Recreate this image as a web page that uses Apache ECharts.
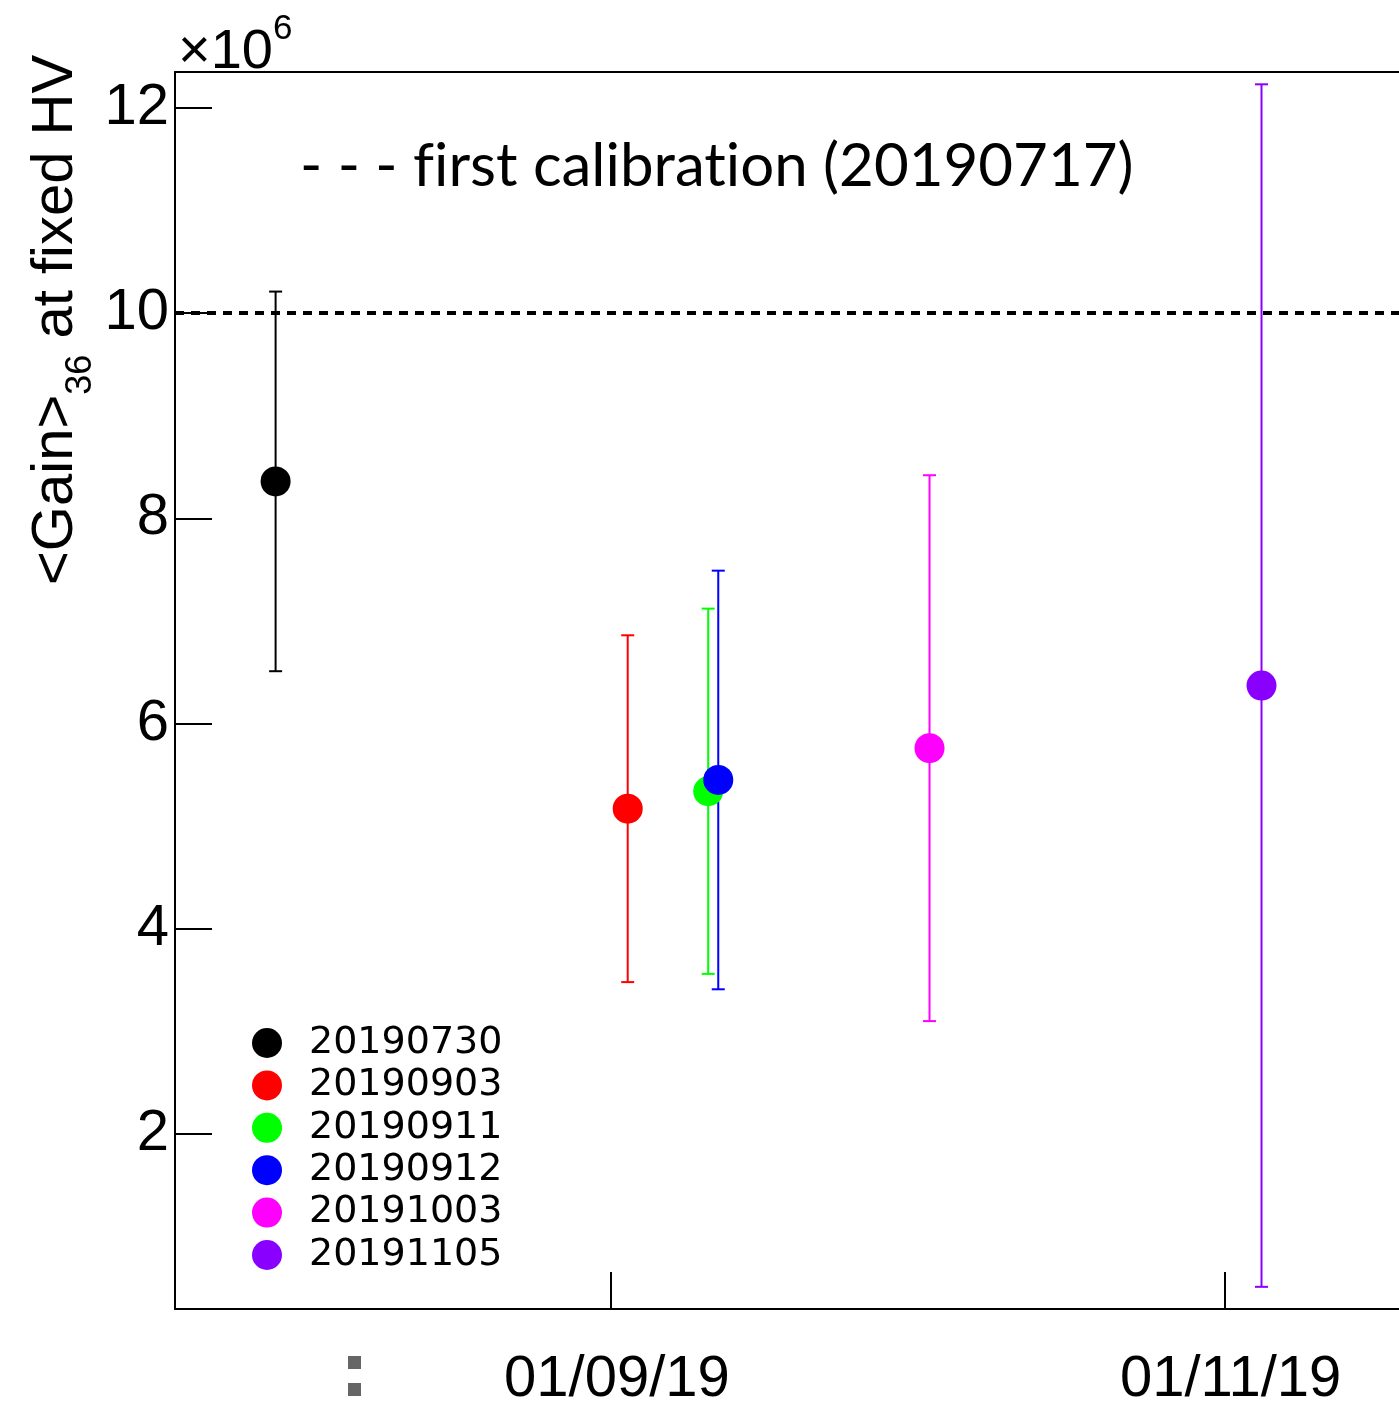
<!DOCTYPE html>
<html>
<head>
<meta charset="utf-8">
<title>Gain at fixed HV</title>
<script src="https://cdn.jsdelivr.net/npm/echarts@6/dist/echarts.min.js"></script>
<style>
  html, body { margin: 0; padding: 0; background: #fff; }
  #chart { width: 1399px; height: 1404px; }
</style>
</head>
<body>
<div id="chart"></div>
<script>
// Calibration runs (date label, time stamp) and mean gain of 36 channels, in units of 1e6
var runLabels = ['20190730', '20190903', '20190911', '20190912', '20191003', '20191105'];
var runDates = ['2019-07-30', '2019-09-03', '2019-09-11', '2019-09-12', '2019-10-03', '2019-11-05'];
var gainValues = [8.36, 5.17, 5.34, 5.45, 5.76, 6.37];
var gainErrors = [1.85, 1.69, 1.78, 2.04, 2.66, 5.86];
var runColors = ['#000000', '#ff0000', '#00ff00', '#0000ff', '#ff00ff', '#8a00ff'];

// Reference gain from the first calibration (20190717)
var firstCalibration = 10;

// Axis ticks (month starts, placed at 08:00 UTC)
var yTickValues = [2, 4, 6, 8, 10, 12];
var xTickDates = ['2019-09-01', '2019-11-01'];
var xTickHour = 8;

var HOUR = 3600 * 1000;
function ts(d) {
  var p = d.split('-');
  return Date.UTC(+p[0], +p[1] - 1, +p[2]);
}
function pad(n) { return (n < 10 ? '0' : '') + n; }
function fmtDate(v) {
  var d = new Date(v);
  return pad(d.getUTCDate()) + '/' + pad(d.getUTCMonth() + 1) + '/' + pad(d.getUTCFullYear() % 100);
}
var xTickValues = xTickDates.map(function (d) { return ts(d) + xTickHour * HOUR; });

var FONT = '"Liberation Sans", Arial, Helvetica, sans-serif';

var errorData = runDates.map(function (d, i) {
  return [ts(d), gainValues[i] - gainErrors[i], gainValues[i] + gainErrors[i], i];
});

var series = [{
  type: 'custom',
  silent: true,
  z: 2,
  data: errorData,
  encode: { x: 0, y: [1, 2] },
  renderItem: function (params, api) {
    var x = api.value(0);
    var lo = api.coord([x, api.value(1)]);
    var hi = api.coord([x, api.value(2)]);
    var color = runColors[api.value(3)];
    var cap = 6.5;
    var style = { stroke: color, lineWidth: 2 };
    return {
      type: 'group',
      children: [
        { type: 'line', shape: { x1: lo[0], y1: lo[1], x2: hi[0], y2: hi[1] }, style: style },
        { type: 'line', shape: { x1: hi[0] - cap, y1: hi[1], x2: hi[0] + cap, y2: hi[1] }, style: style },
        { type: 'line', shape: { x1: lo[0] - cap, y1: lo[1], x2: lo[0] + cap, y2: lo[1] }, style: style }
      ]
    };
  },
  markLine: {
    silent: true,
    symbol: 'none',
    label: { show: false },
    lineStyle: { color: '#000', width: 4, type: [9, 7] },
    data: [{ yAxis: firstCalibration }]
  }
}];

runLabels.forEach(function (name, i) {
  series.push({
    type: 'scatter',
    name: name,
    z: 3,
    symbol: 'circle',
    symbolSize: 30,
    itemStyle: { color: runColors[i], opacity: 1 },
    data: [[ts(runDates[i]), gainValues[i]]]
  });
});

var xMin = ts('2019-07-20');
var xMax = Date.UTC(2019, 10, 18, 16);

var chart = echarts.init(document.getElementById('chart'), null, { renderer: 'canvas' });
chart.setOption({
  animation: false,
  backgroundColor: '#fff',
  grid: { left: 175, right: 0, top: 72, bottom: 95, containLabel: false, outerBoundsMode: 'none' },
  xAxis: [{
    type: 'value',
    scale: true,
    min: xMin,
    max: xMax,
    axisLine: { show: true, lineStyle: { color: '#000', width: 2 } },
    axisTick: {
      show: true, inside: true, length: 37,
      lineStyle: { color: '#000', width: 2 },
      customValues: xTickValues
    },
    axisLabel: {
      show: true, margin: 42, color: '#000', fontFamily: FONT, fontSize: 58,
      padding: [0, 0, 0, 12],
      customValues: xTickValues,
      formatter: function (v) { return fmtDate(v); }
    },
    splitLine: { show: false }
  }, {
    // top frame line
    type: 'value',
    position: 'top',
    scale: true,
    min: xMin,
    max: xMax,
    axisLine: { show: true, onZero: false, lineStyle: { color: '#000', width: 2 } },
    axisTick: { show: false },
    axisLabel: { show: false },
    splitLine: { show: false }
  }],
  yAxis: {
    type: 'value',
    min: 0.294,
    max: 12.35,
    axisLine: { show: true, lineStyle: { color: '#000', width: 2 } },
    axisTick: {
      show: true, inside: true, length: 37,
      lineStyle: { color: '#000', width: 2 },
      customValues: yTickValues
    },
    axisLabel: {
      show: true, margin: 6, color: '#000', fontFamily: FONT, fontSize: 58,
      customValues: yTickValues,
      formatter: function (v) { return String(v); }
    },
    splitLine: { show: false }
  },
  legend: {
    orient: 'vertical',
    left: 252,
    top: 1024,
    padding: 0,
    itemGap: 4.4,
    itemWidth: 30,
    itemHeight: 30,
    icon: 'circle',
    selectedMode: false,
    data: runLabels,
    textStyle: {
      color: '#000', fontFamily: '"DejaVu Sans", sans-serif', fontSize: 38,
      padding: [0, 0, 0, 22]
    }
  },
  graphic: [
    {
      type: 'text',
      left: 300,
      top: 137,
      style: {
        // zero-width non-joiners keep "fi" / "ti" as separate letters
        text: '- - - f\u200Cirst calibrat\u200Cion (20190717)',
        fill: '#000',
        font: '60px Lato, "Open Sans", sans-serif'
      }
    },
    {
      type: 'text',
      left: 178,
      top: 12,
      style: {
        text: '{m|×10}{s|6}',
        rich: {
          m: { fontFamily: FONT, fontSize: 56, fill: '#000', verticalAlign: 'bottom' },
          s: { fontFamily: FONT, fontSize: 35, fill: '#000', padding: [0, 0, 34, 0], verticalAlign: 'bottom' }
        }
      }
    },
    {
      type: 'text',
      x: 27,
      y: 585,
      rotation: Math.PI / 2,
      style: {
        text: '{m|<Gain>}{s|36}{m| at fixed HV}',
        rich: {
          m: { fontFamily: FONT, fontSize: 58, fill: '#000', verticalAlign: 'top' },
          s: { fontFamily: FONT, fontSize: 36, fill: '#000', padding: [36, 0, 0, 0], verticalAlign: 'top' }
        }
      }
    },
    { type: 'rect', shape: { x: 348, y: 1356, width: 13, height: 13 }, style: { fill: '#666' } },
    { type: 'rect', shape: { x: 348, y: 1383, width: 13, height: 13 }, style: { fill: '#666' } }
  ],
  series: series
});
</script>
</body>
</html>
